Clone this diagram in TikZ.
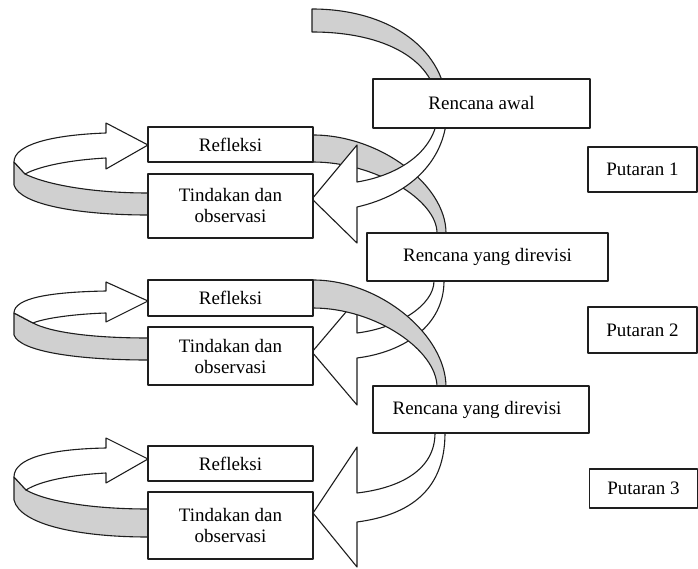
\documentclass[tikz,border=0pt]{standalone}
\usepackage{fontspec}
\setmainfont{Liberation Serif}
\definecolor{ribbon}{RGB}{208,208,208}
\definecolor{ink}{RGB}{30,30,30}
\begin{document}
\begin{tikzpicture}[x=1pt,y=-1pt,line join=round,
  band/.style={draw=ink,line width=1.1pt,fill=ribbon},
  front/.style={draw=ink,line width=1.1pt,fill=white},
  box/.style={draw=ink,line width=1.1pt,fill=white,inner sep=0pt,align=center,
    font=\fontsize{19}{21}\selectfont}]
\useasboundingbox (0,0) rectangle (698,569);
% ---- right spiral ribbon ----
\path[band] (312,9) .. controls (390,9) and (447,50) .. (447,110) -- (438,110)
  .. controls (438,60) and (385,32) .. (312,32) -- cycle;
\path[band] (305,135) -- (313,135) .. controls (380,135) and (446,185) .. (446,233)
  -- (446,245) -- (437,245) -- (437,233) .. controls (437,200) and (375,162) .. (313,162)
  -- (305,162) -- cycle;
\path[front] (447,110) .. controls (447,160) and (410,195) .. (357,207) -- (357,243)
  -- (312,199) -- (357,145) -- (357,182) .. controls (400,175) and (438,150) .. (438,110) -- cycle;
\path[front] (444,262) -- (444,281) .. controls (444,325) and (405,352) .. (357,358)
  -- (357,405) -- (312,352) -- (357,299) -- (357,333)
  .. controls (398,328) and (434,305) .. (434,281) -- (434,262) -- cycle;
\path[band] (305,280) -- (313,280) .. controls (380,280) and (446,335) .. (446,387)
  -- (446,400) -- (437,400) -- (437,387) .. controls (437,350) and (375,308) .. (313,308)
  -- (305,308) -- cycle;
\path[front] (445,415) -- (445,433) .. controls (445,490) and (410,515) .. (357,522)
  -- (357,567) -- (313,513) -- (357,447) -- (357,493)
  .. controls (400,488) and (435,470) .. (435,433) -- (435,415) -- cycle;
% ---- left loops ----
\path[band] (14,162) -- (14,185) .. controls (20,205) and (80,215) .. (148,215) -- (155,215)
  -- (155,193) -- (148,193) .. controls (90,193) and (45,184) .. (25,174) -- cycle;
\path[front] (14,162) .. controls (14,145) and (50,135) .. (106,133) -- (106,123) -- (148,145)
  -- (106,169) -- (106,158) .. controls (70,160) and (40,166) .. (25,174) -- cycle;
\path[band] (14,313) -- (14,335) .. controls (20,352) and (80,360) .. (148,360) -- (155,360)
  -- (155,338) -- (148,338) .. controls (90,338) and (50,332) .. (33,323) -- cycle;
\path[front] (14,313) .. controls (14,298) and (50,292) .. (106,291) -- (106,282) -- (148,301)
  -- (106,322) -- (106,313) .. controls (75,314) and (45,318) .. (33,323) -- cycle;
\path[band] (14,477) -- (14,500) .. controls (20,525) and (80,537) .. (148,537) -- (155,537)
  -- (155,509) -- (148,509) .. controls (90,509) and (45,501) .. (26,490) -- cycle;
\path[front] (14,477) .. controls (14,458) and (50,449) .. (106,448) -- (106,438) -- (148,459)
  -- (106,483) -- (106,473) .. controls (70,475) and (40,481) .. (26,490) -- cycle;
% ---- boxes ----
\node[box,minimum width=217pt,minimum height=49pt] (awal) at (481.5,103.5) {Rencana awal};
\node[box,minimum width=241pt,minimum height=48pt] (rev1) at (487.5,257) {Rencana yang direvisi};
\node[box,minimum width=216pt,minimum height=47pt] (rev2) at (481,409.5) {Rencana yang direvisi\hspace*{8pt}};
\node[box,minimum width=109pt,minimum height=45pt] (put1) at (642.5,169.5) {Putaran 1};
\node[box,minimum width=109pt,minimum height=46pt] (put2) at (642.5,330) {Putaran 2};
\node[box,minimum width=108pt,minimum height=39pt] (put3) at (643.5,488.5) {Putaran 3};
\node[box,minimum width=165pt,minimum height=35pt] (ref1) at (230.5,144.5) {Refleksi};
\node[box,minimum width=165pt,minimum height=64pt] (tin1) at (230.5,206) {Tindakan dan\\observasi};
\node[box,minimum width=165pt,minimum height=36pt] (ref2) at (230.5,298) {Refleksi};
\node[box,minimum width=165pt,minimum height=58pt] (tin2) at (230.5,356) {Tindakan dan\\observasi};
\node[box,minimum width=165pt,minimum height=35pt] (ref3) at (230.5,463.5) {Refleksi};
\node[box,minimum width=165pt,minimum height=67pt] (tin3) at (230.5,525.5) {Tindakan dan\\observasi};
\end{tikzpicture}
\end{document}
